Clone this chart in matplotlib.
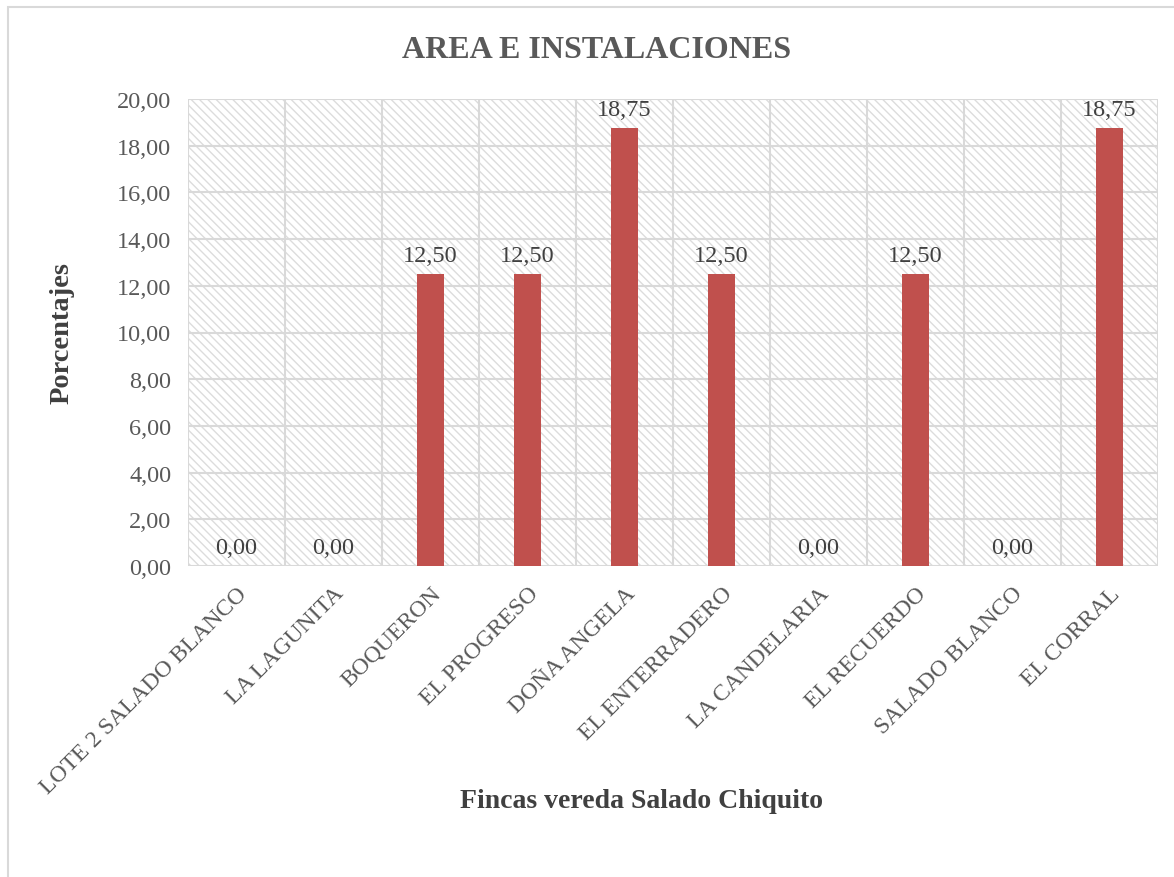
import numpy as np
import matplotlib.pyplot as plt
from matplotlib.patches import Rectangle

plt.rcParams['font.family'] = ['Liberation Serif', 'DejaVu Serif']
plt.rcParams['hatch.color'] = '#d9d9d9'
plt.rcParams['hatch.linewidth'] = 1.0

fincas = ['LOTE 2 SALADO BLANCO', 'LA LAGUNITA', 'BOQUERON', 'EL PROGRESO',
          'DOÑA ANGELA', 'EL ENTERRADERO', 'LA CANDELARIA', 'EL RECUERDO',
          'SALADO BLANCO', 'EL CORRAL']
porcentajes = [0.00, 0.00, 12.50, 12.50, 18.75, 12.50, 0.00, 12.50, 0.00, 18.75]
yticks = [0, 2, 4, 6, 8, 10, 12, 14, 16, 18, 20]

txt = '#595959'
fig = plt.figure(figsize=(11.74, 8.78), dpi=100)
ax = fig.add_axes([188/1174, 1 - 567/878, 970/1174, 467/878])

# fondo rayado
ax.add_patch(Rectangle((0, 0), 1, 1, transform=ax.transAxes, facecolor='white',
                       hatch='\\\\\\\\', edgecolor='#dcdcdc', linewidth=0, zorder=0))

x = np.arange(len(fincas))
ax.bar(x, porcentajes, width=0.27, color='#c0504d', zorder=3)
for xi, v in zip(x, porcentajes):
    ax.text(xi, v + 0.35, f'{v:.2f}'.replace('.', ','), ha='center', va='bottom',
            fontsize=17.5, color='#404040', zorder=4)

ax.set_xlim(-0.5, len(fincas) - 0.5)
ax.set_ylim(0, 20)
ax.set_yticks(yticks)
ax.set_yticklabels([f'{t:.2f}'.replace('.', ',') for t in yticks], fontsize=17.5, color=txt)
ax.set_xticks(x)
ax.set_xticklabels(fincas, rotation=45, ha='right', rotation_mode='anchor',
                   fontsize=17, color=txt)
ax.set_xticks(np.arange(-0.5, len(fincas)), minor=True)
ax.tick_params(axis='both', which='both', length=0)
ax.tick_params(axis='x', pad=12)
ax.tick_params(axis='y', pad=12)
ax.grid(axis='y', color='#d9d9d9', linewidth=1.5, zorder=1)
ax.grid(axis='x', which='minor', color='#d9d9d9', linewidth=1.5, zorder=1)
ax.grid(axis='x', which='major', visible=False)
ax.set_axisbelow(True)
for s in ax.spines.values():
    s.set_visible(False)

fig.text(597/1174, 1 - 50/878, 'AREA E INSTALACIONES', ha='center', va='center',
         fontsize=23, fontweight='bold', color=txt)
fig.text(62/1174, 1 - 333/878, 'Porcentajes', rotation=90, ha='center', va='center',
         fontsize=20.5, fontweight='bold', color='#404040')
fig.text(641/1174, 1 - 802/878, 'Fincas vereda Salado Chiquito', ha='center', va='center',
         fontsize=20, fontweight='bold', color='#404040')

fig.add_artist(Rectangle((8/1174, -0.01), 1.0, 1 - 8/878 + 0.01, transform=fig.transFigure,
                         fill=False, edgecolor='#d9d9d9', linewidth=1.5))

fig.savefig('out.png', dpi=100)
